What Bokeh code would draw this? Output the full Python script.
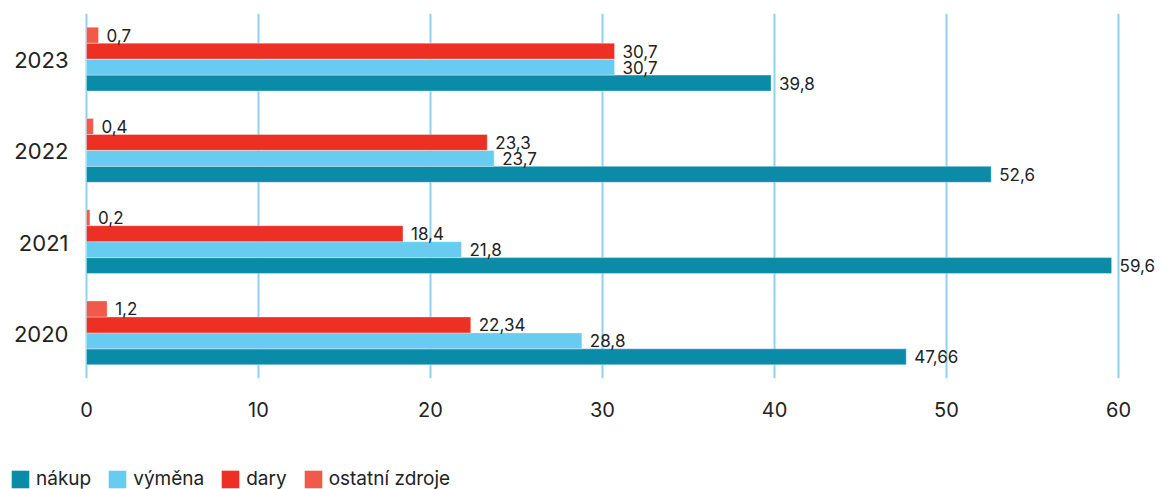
from bokeh.plotting import figure
from bokeh.layouts import column
from bokeh.models import ColumnDataSource, FactorRange, FixedTicker, Legend, LegendItem, Range1d
from bokeh.transform import dodge
from bokeh.core.properties import value
from bokeh.embed import file_html
from bokeh.resources import INLINE

years = ["2020", "2021", "2022", "2023"]
nakup = [47.66, 59.6, 52.6, 39.8]
vymena = [28.8, 21.8, 23.7, 30.7]
dary = [22.34, 18.4, 23.3, 30.7]
ostatni = [1.2, 0.2, 0.4, 0.7]
x_ticks = [0, 10, 20, 30, 40, 50, 60]

series = [
    ("nákup", nakup, "#0a8ca9", -0.2625),
    ("výměna", vymena, "#68ccf0", -0.0875),
    ("dary", dary, "#ec3124", 0.0875),
    ("ostatní zdroje", ostatni, "#ef5a4b", 0.2625),
]

FONT = "Inter"
PX = 17.2  # pixels per unit
LEFT = 9

p = figure(width=1162, height=458, output_backend="svg", toolbar_location=None,
           y_range=FactorRange(factors=years, range_padding=0),
           x_range=Range1d(-(86 - LEFT) / PX, (1162 - 86) / PX),
           min_border_left=LEFT, min_border_right=0, min_border_top=13,
           min_border_bottom=80, y_axis_location=None)
p.outline_line_color = None
p.background_fill_color = "white"

for name, vals, color, off in series:
    src = ColumnDataSource(dict(year=years, v=vals,
                                lab=[str(v).replace(".", ",") for v in vals]))
    p.hbar(y=dodge("year", off, range=p.y_range), right="v", left=0, height=0.175,
           source=src, fill_color=color, line_color="white", line_alpha=0.35,
           line_width=1)
    p.text(x="v", y=dodge("year", off, range=p.y_range), text="lab", source=src,
           x_offset=8, y_offset=0, text_baseline="middle", text_align="left",
           text_font=value(FONT), text_font_size="17px", text_color="#222222")

# category (year) labels
ysrc = ColumnDataSource(dict(year=years, x0=[0] * len(years)))
p.text(x="x0", y="year", text="year", source=ysrc, x_offset=-18, y_offset=1,
       text_align="right", text_baseline="middle", text_font=value(FONT),
       text_font_size="22px", text_color="#222222")

p.xaxis.ticker = FixedTicker(ticks=x_ticks)
p.xaxis.axis_line_color = None
p.xaxis.major_tick_line_color = None
p.xaxis.minor_tick_line_color = None
p.xaxis.major_label_standoff = 17
p.xaxis.major_label_text_font = FONT
p.xaxis.major_label_text_font_size = "20px"
p.xaxis.major_label_text_color = "#222222"

p.xgrid.grid_line_color = "#8dd3f0"
p.xgrid.grid_line_width = 2
p.xgrid.ticker = FixedTicker(ticks=x_ticks)
p.ygrid.grid_line_color = None

# legend strip
lf = figure(width=1162, height=31, output_backend="svg", toolbar_location=None,
            x_range=Range1d(0, 1), y_range=Range1d(0, 1),
            x_axis_location=None, y_axis_location=None,
            min_border_left=LEFT, min_border_right=0, min_border_top=0, min_border_bottom=0)
lf.outline_line_color = None
lf.xgrid.visible = False
lf.ygrid.visible = False
items = []
for name, vals, color, off in series:
    r = lf.hbar(y=[0.5], right=[0], left=[0], height=0.5, fill_color=color, line_color=None)
    items.append(LegendItem(label=name, renderers=[r]))

legend = Legend(items=items, orientation="horizontal", location=(0, -1),
                padding=0, margin=0, spacing=15, label_standoff=5,
                glyph_width=22, glyph_height=22, label_height=22,
                label_text_font=FONT, label_text_font_size="19px",
                label_text_color="#222222", border_line_color=None,
                background_fill_alpha=0)
lf.add_layout(legend, "center")

open("out.html", "w").write(file_html(column(p, lf, spacing=0), INLINE))
